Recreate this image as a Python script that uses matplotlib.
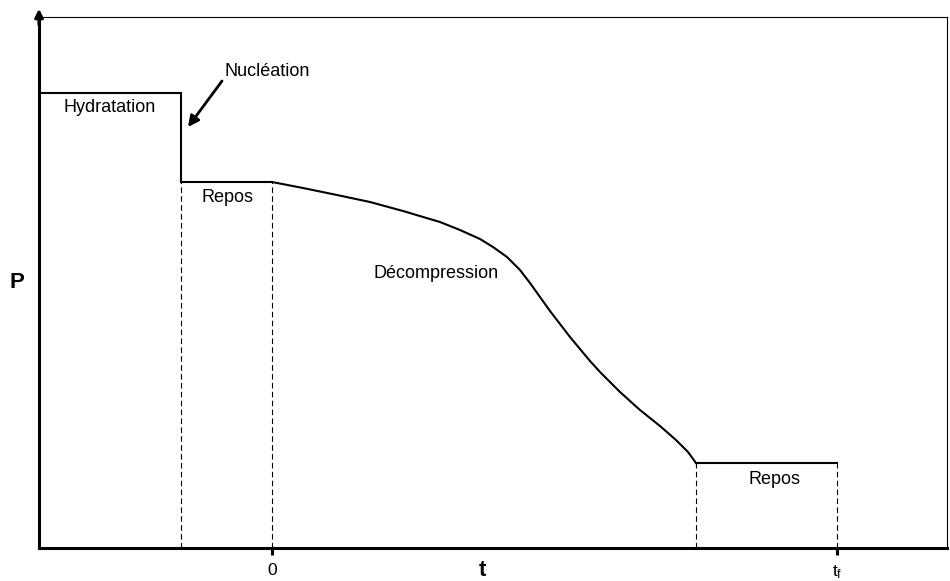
import numpy as np
import matplotlib
matplotlib.use('Agg')
import matplotlib.pyplot as plt

plt.rcParams['font.family'] = ['Liberation Sans', 'DejaVu Sans']

# paliers (x en unités de temps relatives, 0 = début décompression)
hydra_x = [-233, -91]
hydra_p = [455, 455]
drop_x = [-91, -91]
drop_p = [455, 366]
repos1_x = [-91, 0]
repos1_p = [366, 366]

# courbe de décompression
decomp_x = [0, 31, 65, 98, 131, 168, 188, 208, 221, 235, 248, 258, 268,
            278, 288, 298, 308, 318, 328, 348, 368, 388, 404, 416, 424]
decomp_p = [366, 360, 353, 346, 337, 326, 318, 309, 301, 291, 278, 265, 251,
            237, 224, 211, 199, 187, 176, 156, 138, 122, 108, 96, 85]

repos2_x = [424, 565]
repos2_p = [85, 85]

x_ticks = [0, 565]
x_labels = ['0', r'$\mathregular{t_f}$']

fig = plt.figure(figsize=(9.5, 5.81), dpi=100)
ax = fig.add_axes([39 / 950, 33 / 581, 908 / 950, 531 / 581])
ax.set_xlim(-233, 675)
ax.set_ylim(0, 531)

lw = 1.5
ax.plot(hydra_x, hydra_p, color='black', lw=lw)
ax.plot(drop_x, drop_p, color='black', lw=lw)
ax.plot(repos1_x, repos1_p, color='black', lw=lw)
ax.plot(decomp_x, decomp_p, color='black', lw=lw, solid_joinstyle='round')
ax.plot(repos2_x, repos2_p, color='black', lw=lw)

# pointillés verticaux
dash = dict(color='black', lw=0.8, ls=(0, (5, 3)))
ax.plot([drop_x[0]] * 2, [0, repos1_p[0]], **dash)
ax.plot([repos1_x[1]] * 2, [0, repos1_p[1]], **dash)
ax.plot([repos2_x[0]] * 2, [0, repos2_p[0]], **dash)
ax.plot([repos2_x[1]] * 2, [0, repos2_p[1]], **dash)

# cadre
for s in ['top', 'right']:
    ax.spines[s].set_linewidth(0.8)
for s in ['left', 'bottom']:
    ax.spines[s].set_linewidth(2.2)

ax.set_yticks([])
ax.set_xticks(x_ticks)
ax.set_xticklabels(x_labels, fontsize=12.5)
ax.tick_params(axis='x', direction='out', length=5, width=2.2, pad=6)

# flèche sur l'axe vertical
ax.annotate('', xy=(0, 1 + 11 / 531), xytext=(0, 0.98), xycoords='axes fraction',
            arrowprops=dict(arrowstyle='-|>', color='black', lw=2.2, mutation_scale=12),
            annotation_clip=False)

ax.text(443 / 908, -22 / 531, 't', fontsize=16, fontweight='bold',
        ha='center', va='center', transform=ax.transAxes)
ax.text(-22 / 908, 265 / 531, 'P', fontsize=16, fontweight='bold',
        ha='center', va='center', transform=ax.transAxes)

fs = 13
ax.text(-162, 441, 'Hydratation', fontsize=fs, ha='center', va='center')
ax.text(-48, 476, 'Nucléation', fontsize=fs, ha='left', va='center')
ax.annotate('', xy=(-84, 421), xytext=(-50, 467),
            arrowprops=dict(arrowstyle='-|>', color='black', lw=2, mutation_scale=16,
                            shrinkA=0, shrinkB=0))
ax.text(-45, 350, 'Repos', fontsize=fs, ha='center', va='center')
ax.text(164, 274, 'Décompression', fontsize=fs, ha='center', va='center')
ax.text(503, 68, 'Repos', fontsize=fs, ha='center', va='center')

fig.savefig('out.png', dpi=100)
